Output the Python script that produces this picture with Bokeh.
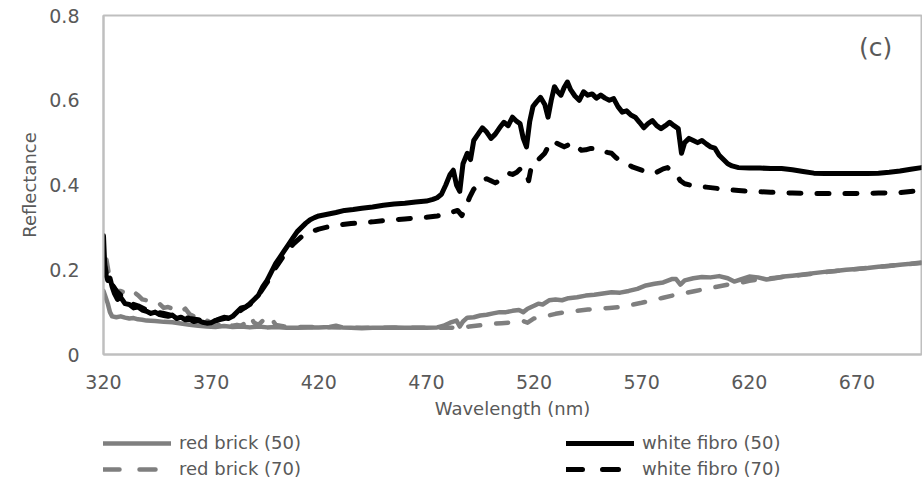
from bokeh.plotting import figure
from bokeh.models import Range1d, FixedTicker, Legend, LegendItem, Label
from bokeh.layouts import column
from bokeh.embed import file_html
from bokeh.resources import INLINE

# ---------------- data ----------------
x_ticks = [320, 370, 420, 470, 520, 570, 620, 670]
y_ticks = [0, 0.2, 0.4, 0.6, 0.8]
y_tick_labels = ["0", "0.2", "0.4", "0.6", "0.8"]

series_names = ["red brick (50)", "red brick (70)", "white fibro (50)", "white fibro (70)"]

wf50_x = [320, 320.5, 321, 322, 323, 324, 325, 326.5, 328, 330, 332, 334, 336, 338, 340, 342, 344, 346, 348, 350,
          352, 354, 356, 358, 360, 362, 364, 366, 368, 370, 372, 374, 376, 378, 380, 382, 384, 386, 388, 390,
          392, 394, 396, 398, 400, 402, 404, 406, 408, 410, 412, 414, 416, 418, 420, 424, 428, 432, 436, 440,
          445, 450, 455, 460, 465, 470, 473, 475, 477, 479, 481, 482.5, 484, 485.5, 487, 489, 490.5, 492, 494, 496,
          498, 500, 502, 504, 506, 508, 510, 512, 513.5, 515, 516.5, 518, 519.5, 521, 523, 525, 526.5, 528, 529.5, 531,
          532.5, 534, 535.5, 537, 539, 541, 543, 545, 547, 549, 551, 553, 555, 557, 559, 561, 563, 565, 567, 569,
          571, 573, 575, 577, 579, 581, 583, 585, 587, 588.5, 590, 592, 594, 596, 598, 600, 602, 604, 606, 608,
          610, 612, 615, 620, 625, 630, 635, 640, 645, 650, 655, 660, 665, 670, 675, 680, 685, 690, 695, 700]
wf50_y = [0.28, 0.22, 0.19, 0.175, 0.18, 0.16, 0.145, 0.13, 0.135, 0.12, 0.118, 0.11, 0.112, 0.105, 0.102, 0.097, 0.1, 0.094, 0.092, 0.09,
          0.093, 0.085, 0.088, 0.082, 0.083, 0.078, 0.08, 0.076, 0.074, 0.075, 0.08, 0.084, 0.088, 0.085, 0.09, 0.1, 0.11, 0.112, 0.12, 0.13,
          0.14, 0.16, 0.175, 0.195, 0.215, 0.23, 0.245, 0.26, 0.275, 0.29, 0.3, 0.31, 0.318, 0.323, 0.327, 0.331, 0.335, 0.34, 0.342, 0.345,
          0.348, 0.352, 0.355, 0.357, 0.36, 0.362, 0.366, 0.37, 0.378, 0.4, 0.425, 0.435, 0.4, 0.385, 0.45, 0.475, 0.46, 0.505, 0.52, 0.535,
          0.525, 0.51, 0.52, 0.535, 0.548, 0.54, 0.56, 0.55, 0.545, 0.51, 0.49, 0.55, 0.585, 0.595, 0.607, 0.59, 0.56, 0.6, 0.632, 0.62,
          0.612, 0.63, 0.643, 0.625, 0.61, 0.6, 0.62, 0.612, 0.615, 0.605, 0.612, 0.605, 0.6, 0.604, 0.585, 0.572, 0.575, 0.565, 0.56, 0.548,
          0.535, 0.545, 0.552, 0.54, 0.533, 0.54, 0.548, 0.54, 0.533, 0.475, 0.5, 0.51, 0.505, 0.5, 0.505, 0.497, 0.49, 0.487, 0.47, 0.46,
          0.45, 0.445, 0.441, 0.44, 0.44, 0.439, 0.439, 0.436, 0.432, 0.428, 0.427, 0.427, 0.427, 0.427, 0.427, 0.428, 0.43, 0.433, 0.437, 0.441]

wf70_x = [320, 321, 322, 324, 326, 328, 330, 333, 336, 340, 344, 348, 352, 356, 360, 364, 368, 372, 376, 380,
          384, 388, 392, 396, 400, 404, 408, 412, 416, 420, 425, 430, 435, 440, 445, 450, 455, 460, 465, 470,
          475, 479, 482, 484.5, 486.5, 488, 490, 492, 494, 496, 498, 500, 502, 504, 506, 508, 510, 512, 514, 516,
          517.5, 519, 521, 523, 525, 526.5, 528, 530, 532, 534, 536, 538, 540, 542, 544, 546, 548, 550, 552, 554,
          556, 558, 560, 563, 566, 570, 574, 577, 580, 582, 584, 586, 588, 590, 593, 597, 600, 605, 610, 615,
          620, 630, 640, 650, 660, 670, 680, 690, 700]
wf70_y = [0.22, 0.2, 0.17, 0.165, 0.15, 0.14, 0.13, 0.12, 0.115, 0.105, 0.1, 0.097, 0.092, 0.09, 0.085, 0.082, 0.078, 0.08, 0.085, 0.09,
          0.105, 0.118, 0.14, 0.17, 0.205, 0.235, 0.26, 0.278, 0.289, 0.296, 0.302, 0.306, 0.309, 0.311, 0.313, 0.316, 0.318, 0.32, 0.322, 0.324,
          0.327, 0.33, 0.336, 0.34, 0.328, 0.345, 0.37, 0.39, 0.4, 0.41, 0.415, 0.41, 0.405, 0.41, 0.42, 0.428, 0.425, 0.43, 0.44, 0.435,
          0.41, 0.45, 0.455, 0.465, 0.475, 0.49, 0.485, 0.5, 0.495, 0.49, 0.495, 0.5, 0.49, 0.482, 0.483, 0.486, 0.486, 0.487, 0.482, 0.477,
          0.475, 0.465, 0.457, 0.45, 0.442, 0.435, 0.427, 0.43, 0.438, 0.441, 0.432, 0.425, 0.41, 0.403, 0.399, 0.397, 0.395, 0.392, 0.389, 0.387,
          0.385, 0.383, 0.381, 0.38, 0.38, 0.38, 0.381, 0.382, 0.387]

rb50_x = [320, 321, 322, 323, 324, 326, 328, 330, 332, 334, 336, 338, 340, 344, 348, 352, 356, 360, 364, 368,
          372, 376, 380, 384, 388, 392, 396, 400, 405, 410, 415, 420, 425, 428, 431, 435, 440, 445, 450, 455,
          460, 465, 470, 475, 478, 481, 484, 485.5, 487, 489, 492, 495, 498, 501, 504, 507, 510, 513, 515, 517,
          520, 522, 524, 527, 530, 533, 536, 540, 544, 548, 552, 556, 560, 564, 568, 572, 576, 580, 584, 586,
          588, 590, 594, 598, 602, 606, 610, 613, 616, 620, 624, 628, 632, 636, 640, 645, 650, 655, 660, 665,
          670, 675, 680, 685, 690, 695, 700]
rb50_y = [0.15, 0.135, 0.12, 0.1, 0.09, 0.088, 0.09, 0.087, 0.085, 0.086, 0.083, 0.082, 0.08, 0.079, 0.077, 0.076, 0.073, 0.07, 0.068, 0.066,
          0.065, 0.067, 0.065, 0.066, 0.064, 0.066, 0.064, 0.065, 0.063, 0.063, 0.064, 0.064, 0.065, 0.068, 0.064, 0.063, 0.062, 0.063, 0.063, 0.064,
          0.063, 0.063, 0.063, 0.064, 0.068, 0.075, 0.08, 0.066, 0.078, 0.087, 0.088, 0.092, 0.094, 0.097, 0.1, 0.1, 0.103, 0.105, 0.1, 0.108,
          0.115, 0.12, 0.118, 0.128, 0.13, 0.128, 0.133, 0.135, 0.139, 0.141, 0.144, 0.147, 0.146, 0.15, 0.155, 0.163, 0.167, 0.17, 0.178, 0.178,
          0.165, 0.175, 0.18, 0.183, 0.182, 0.185, 0.18, 0.172, 0.177, 0.184, 0.182, 0.177, 0.18, 0.184, 0.186, 0.189, 0.192, 0.195, 0.197, 0.2,
          0.202, 0.204, 0.207, 0.209, 0.212, 0.214, 0.217]

rb70_x = [320, 320.7, 321.5, 322.5, 324, 326, 328, 330, 332, 334, 336, 338, 340, 342, 344, 346, 348, 350, 352, 354,
          356, 358, 360, 362, 364, 366, 368, 370, 372, 374, 376, 378, 380, 382, 384, 386, 388, 390, 392, 394,
          396, 398, 400, 404, 410, 420, 430, 440, 450, 460, 470, 480, 486, 490, 495, 500, 505, 510, 515, 517,
          520, 525, 530, 535, 540, 545, 550, 555, 560, 565, 570, 575, 580, 585, 590, 595, 600, 605, 610, 615,
          620, 625, 630, 640, 650, 660, 670, 680, 690, 700]
rb70_y = [0.19, 0.24, 0.22, 0.19, 0.165, 0.15, 0.15, 0.145, 0.14, 0.148, 0.14, 0.13, 0.128, 0.12, 0.118, 0.12, 0.11, 0.112, 0.108, 0.105,
          0.1, 0.108, 0.095, 0.09, 0.093, 0.085, 0.08, 0.075, 0.072, 0.07, 0.078, 0.07, 0.068, 0.07, 0.068, 0.075, 0.09, 0.075, 0.07, 0.08,
          0.09, 0.085, 0.07, 0.066, 0.065, 0.065, 0.064, 0.063, 0.063, 0.063, 0.063, 0.063, 0.064, 0.066, 0.069, 0.072, 0.074, 0.076, 0.079, 0.075,
          0.085, 0.09, 0.096, 0.1, 0.103, 0.106, 0.108, 0.11, 0.112, 0.117, 0.122, 0.128, 0.134, 0.14, 0.145, 0.15, 0.155, 0.16, 0.165, 0.168,
          0.174, 0.178, 0.18, 0.185, 0.191, 0.197, 0.202, 0.207, 0.212, 0.216]

panel_tag = "(c)"

# ---------------- styling ----------------
FONT = "DejaVu Sans"
TXT = "#595959"
GRID = "#bfbfbf"
GRAY = "#7f7f7f"

STYLES = [dict(line_color=GRAY, line_width=4.5),
          dict(line_color=GRAY, line_width=4.5, line_dash="12 16"),
          dict(line_color="black", line_width=5),
          dict(line_color="black", line_width=5, line_dash="12 16")]
LEGEND_DASH = "16 20"

p = figure(width=922, height=425, output_backend="svg", toolbar_location=None,
           x_range=Range1d(320, 700), y_range=Range1d(0, 0.8),
           min_border_left=103, min_border_right=1, min_border_top=15, min_border_bottom=71)
p.background_fill_color = "white"
p.border_fill_color = "white"
p.outline_line_color = GRID
p.outline_line_width = 2
p.grid.visible = False

for ax in (p.xaxis[0], p.yaxis[0]):
    ax.axis_line_color = GRID
    ax.axis_line_width = 2
    ax.major_tick_line_color = None
    ax.minor_tick_line_color = None
    ax.major_label_text_font = FONT
    ax.major_label_text_font_size = "19px"
    ax.major_label_text_color = TXT
    ax.axis_label_text_font = FONT
    ax.axis_label_text_font_size = "18px"
    ax.axis_label_text_color = TXT
    ax.axis_label_text_font_style = "normal"

p.xaxis.ticker = FixedTicker(ticks=x_ticks)
p.yaxis.ticker = FixedTicker(ticks=y_ticks)
p.yaxis.major_label_overrides = {t: s for t, s in zip(y_ticks, y_tick_labels)}
p.xaxis.axis_label = "Wavelength (nm)"
p.yaxis.axis_label = "Reflectance"
p.xaxis.major_label_standoff = 14
p.xaxis.axis_label_standoff = 6
p.yaxis.major_label_standoff = 18
p.yaxis.axis_label_standoff = 6

for xs, ys, st in zip([rb50_x, rb70_x, wf50_x, wf70_x], [rb50_y, rb70_y, wf50_y, wf70_y], STYLES):
    p.line(xs, ys, line_join="round", line_cap="round", **st)

p.add_layout(Label(x=671, y=0.724, text=panel_tag, text_font=FONT, text_font_size="25px",
                   text_color=TXT, text_baseline="middle", text_align="left"))

# ---------------- legend strip ----------------
lg = figure(width=922, height=58, output_backend="svg", toolbar_location=None,
            x_range=Range1d(0, 1), y_range=Range1d(0, 1),
            min_border=0, min_border_left=0, min_border_right=0, min_border_top=0, min_border_bottom=0)
lg.axis.visible = False
lg.grid.visible = False
lg.outline_line_color = None
lg.background_fill_color = "white"
lg.border_fill_color = "white"

# legend-only renderers (a single missing value each, nothing is drawn in the strip)
nan = float("nan")
swatches = []
for st in STYLES:
    st2 = dict(st)
    if "line_dash" in st2:
        st2["line_dash"] = LEGEND_DASH
    swatches.append(lg.line([nan], [nan], line_cap="round", **st2))

def make_legend(idx, x):
    return Legend(items=[LegendItem(label=series_names[i], renderers=[swatches[i]]) for i in idx],
                  location=(x, 4), orientation="vertical",
                  glyph_width=68, glyph_height=20, spacing=5, label_standoff=8,
                  label_height=20, padding=0, margin=0,
                  border_line_color=None, background_fill_alpha=0,
                  label_text_font=FONT, label_text_font_size="18px", label_text_color=TXT)

lg.add_layout(make_legend([0, 1], 0))
lg.add_layout(make_legend([2, 3], 463))

layout = column(p, lg, spacing=0)
open("out.html", "w").write(file_html(layout, INLINE))
